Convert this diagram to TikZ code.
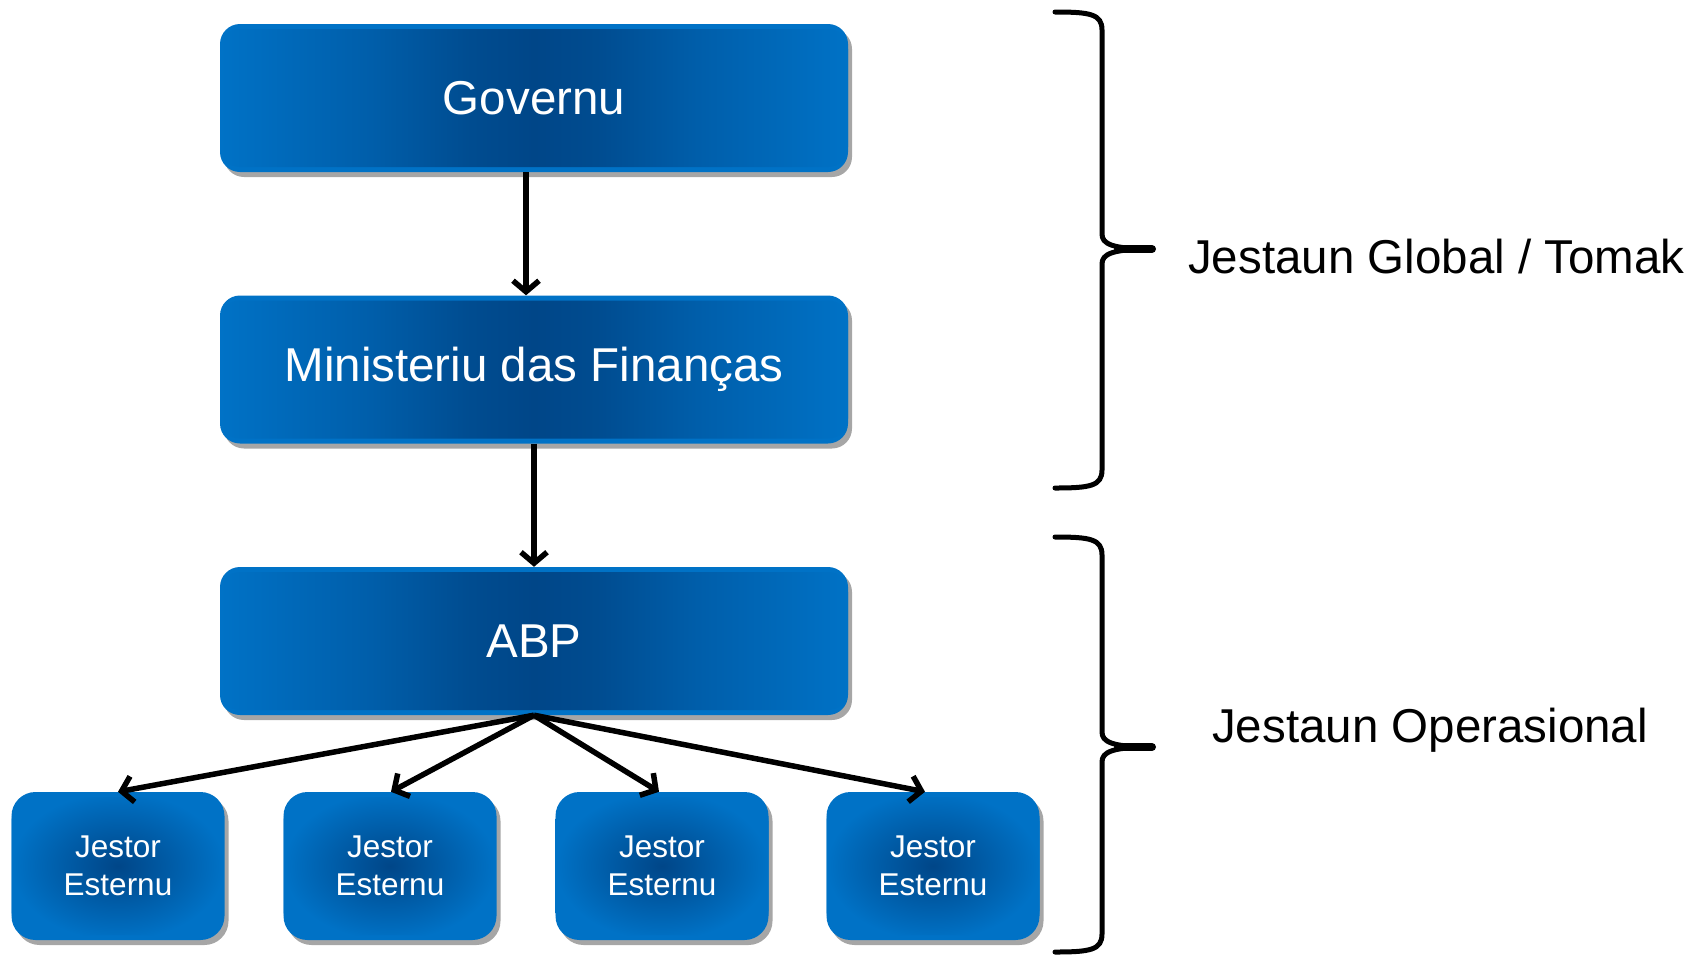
\documentclass[tikz,border=0pt]{standalone}
\usepackage{fontspec}
\setmainfont{Liberation Sans}
\usetikzlibrary{arrows.meta,shadows}
\definecolor{edgeblue}{RGB}{0,114,198}
\definecolor{midblue}{RGB}{0,94,170}
\definecolor{nearblue}{RGB}{0,76,144}
\definecolor{coreblue}{RGB}{0,70,136}
\pgfdeclarehorizontalshading{boxshade}{100bp}{color(0bp)=(edgeblue); color(25bp)=(edgeblue);
  color(37bp)=(midblue); color(45bp)=(nearblue); color(50bp)=(coreblue);
  color(55bp)=(nearblue); color(63bp)=(midblue); color(75bp)=(edgeblue); color(100bp)=(edgeblue)}
\tikzset{
  boxbase/.style={draw=none, fill=edgeblue, text=white, align=center, inner sep=0pt,
    drop shadow={shadow xshift=4pt, shadow yshift=-5pt, opacity=0.35, fill=black}},
  bigbox/.style={boxbase, rounded corners=20pt, minimum width=628pt, minimum height=148pt,
    font=\fontsize{47.5}{57}\selectfont,
    path picture={\shade[shading=boxshade]
      ([yshift=-5pt]path picture bounding box.north west) rectangle
      ([yshift=5pt]path picture bounding box.south east);}},
  smallbox/.style={boxbase, rounded corners=24pt, minimum width=213pt, minimum height=148pt,
    font=\fontsize{31.5}{38}\selectfont,
    path picture={\shade[inner color=coreblue, outer color=edgeblue]
      ([yshift=-5pt]path picture bounding box.north west) rectangle
      ([yshift=5pt]path picture bounding box.south east);}},
  link/.style={line width=5.5pt, -{Straight Barb[length=11pt,width=26pt]}},
  brace/.style={line width=5pt, line cap=round, line join=round},
  bracetip/.style={line width=8pt, line cap=round},
  bracelabel/.style={anchor=base west, inner sep=0pt, font=\fontsize{47.5}{57}\selectfont}
}
\begin{document}
\begin{tikzpicture}[x=1pt,y=-1pt]
\useasboundingbox (0,0) rectangle (1704,954);
\node[bigbox] (gov) at (534,98) {Governu};
\node[bigbox] (min) at (534,369.5) {Ministeriu das Finanças};
\node[bigbox] (abp) at (534,641) {ABP};
\node[smallbox] (j1) at (118,866) {Jestor\\Esternu};
\node[smallbox] (j2) at (390,866) {Jestor\\Esternu};
\node[smallbox] (j3) at (662,866) {Jestor\\Esternu};
\node[smallbox] (j4) at (933,866) {Jestor\\Esternu};

\draw[link] ([xshift=-8pt]gov.south) -- ([xshift=-8pt]min.north);
\draw[link] (min.south) -- (abp.north);
\draw[link] (abp.south) -- (j1.north);
\draw[link] (abp.south) -- ([xshift=1pt]j2.north);
\draw[link] (abp.south) -- ([xshift=-3pt]j3.north);
\draw[link] (abp.south) -- ([xshift=-8pt]j4.north);

% braces
\coordinate (t1) at (1152,249);
\coordinate (t2) at (1152,747);
\draw[brace] (1055,12) .. controls (1090,12) and (1102,14) .. (1102,30)
  -- (1102,234) .. controls (1102,244) and (1112,249) .. (t1)
  .. controls (1112,249) and (1102,254) .. (1102,264)
  -- (1102,470) .. controls (1102,486) and (1090,488) .. (1055,488);
\draw[bracetip] (1118,249) -- (t1);
\draw[brace] (1055,537) .. controls (1090,537) and (1102,539) .. (1102,555)
  -- (1102,732) .. controls (1102,742) and (1112,747) .. (t2)
  .. controls (1112,747) and (1102,752) .. (1102,762)
  -- (1102,934) .. controls (1102,950) and (1090,952) .. (1055,952);
\draw[bracetip] (1118,747) -- (t2);

\node[bracelabel] (lg) at (1188,273) {Jestaun Global / Tomak};
\node[bracelabel] (lo) at (1212,742) {Jestaun Operasional};
\end{tikzpicture}
\end{document}
